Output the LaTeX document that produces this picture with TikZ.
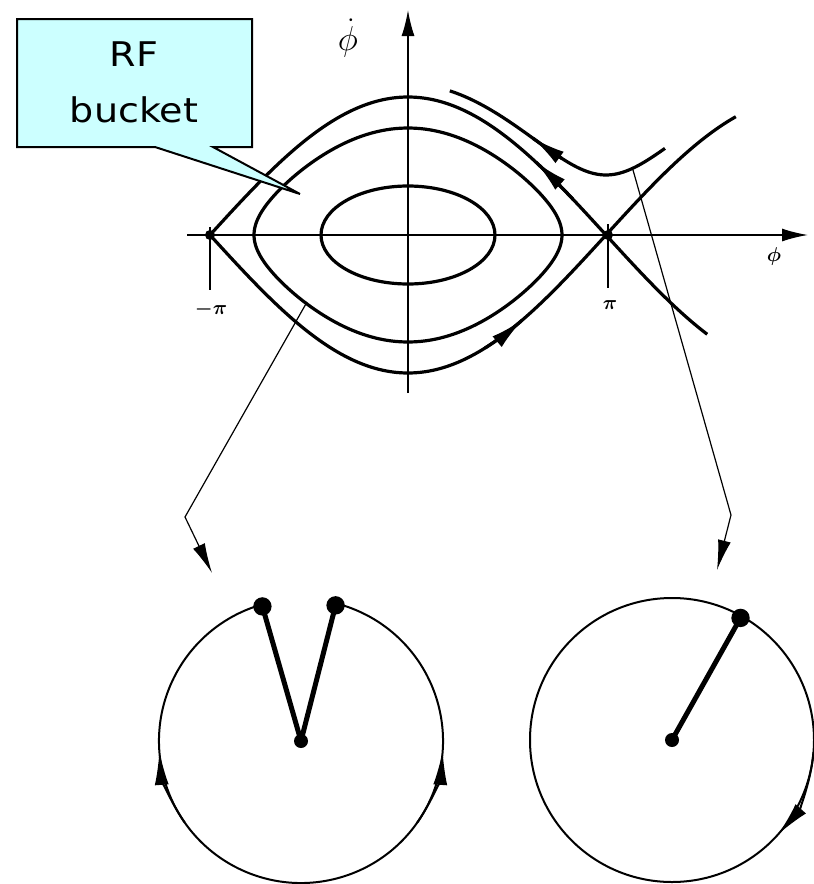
\documentclass[tikz,border=0pt]{standalone}
\usepackage{fontspec}
\newfontfamily\calloutfont{DejaVu Sans}
\usetikzlibrary{arrows.meta,calc}
\definecolor{bucketfill}{RGB}{204,255,255}
\begin{document}
\begin{tikzpicture}[x=0.5pt,y=-0.5pt,
 traj/.style={line width=1.6pt, line join=round},
 axisline/.style={line width=0.85pt},
 pointer/.style={line width=0.6pt, line join=miter},
 wheel/.style={line width=1pt},
 rod/.style={line width=2.5pt, line cap=round},
 midtip/.style={-{Latex[length=17pt,width=7pt]}},
 axtip/.style={-{Latex[length=13pt,width=6.5pt]}},
 ptrtip/.style={-{Latex[length=15pt,width=6.5pt]}},
 labelfont/.style={font=\fontsize{10}{12}\selectfont\boldmath},
]
\useasboundingbox (0,0) rectangle (814,884);

% axes
\coordinate (O) at (408,235);
\coordinate (xL) at (187,235);
\coordinate (xR) at (808,235);
\coordinate (yB) at (408,393);
\coordinate (yT) at (408,10);
\draw[axisline, axtip] (xL) -- (xR);
\draw[axisline, axtip] (yB) -- (yT);

% ticks at -pi and pi
\coordinate (mpi) at (210,235);
\coordinate (ppi) at (608,235);
\coordinate (mpiA) at (210,227);
\coordinate (mpiB) at (210,290);
\coordinate (ppiA) at (608,224);
\coordinate (ppiB) at (608,288);
\draw[axisline] (mpiA) -- (mpiB);
\draw[axisline] (ppiA) -- (ppiB);

% labels
\node[labelfont] (lmpi) at (211,309) {$-\pi$};
\node[labelfont] (lppi) at (610,305) {$\pi$};
\node[labelfont] (lphi) at (774,256) {$\phi$};
\node[font=\fontsize{18}{20}\selectfont] (ldphi) at (348,38) {$\dot{\phi}$};

% inner ellipse
\draw[traj] (O) ellipse [x radius=43.5pt, y radius=24.5pt];

% second closed trajectory
\draw[traj] plot[domain=0:180, samples=100] ({408+154*cos(\x)}, {235-107*sqrt(max(0,(cos(140*cos(\x))+0.766044)/1.766044))})
 -- plot[domain=180:360, samples=100] ({408+154*cos(\x)}, {235+107*sqrt(max(0,(cos(140*cos(\x))+0.766044)/1.766044))}) -- cycle;

% separatrix
\draw[traj] plot[domain=-180:272, samples=150] ({408+1.1*\x}, {235-138*cos(\x/2)});
\draw[traj] plot[domain=-180:298, samples=150] ({408+1.1*\x}, {235+138*cos(\x/2)});

% open trajectory
\draw[traj] plot[domain=38:233.6, samples=100] ({408+1.1*\x}, {235-98*sqrt(1.375+cos(\x))});

% direction arrows on trajectories
\draw[traj, midtip] plot[domain=150:115.5, samples=30] ({408+1.1*\x}, {235-138*cos(\x/2)});
\draw[traj, midtip] plot[domain=70:104.5, samples=30] ({408+1.1*\x}, {235+138*cos(\x/2)});
\draw[traj, midtip] plot[domain=140:112.7, samples=30] ({408+1.1*\x}, {235-98*sqrt(1.375+cos(\x))});

% fixed points
\fill (mpi) circle[radius=2.5pt];
\fill (ppi) circle[radius=2.5pt];

% pointers to the pendulum pictures
\coordinate (pA) at (307,302);
\coordinate (pAb) at (185,517);
\coordinate (pAt) at (212,573);
\coordinate (pB) at (633,170);
\coordinate (pBb) at (731,515);
\coordinate (pBt) at (717,570);
\draw[pointer, ptrtip] (pA) -- (pAb) -- (pAt);
\draw[pointer, ptrtip] (pB) -- (pBb) -- (pBt);

% left pendulum (oscillation)
\coordinate (Lc) at (301,741);
\coordinate (Ld1) at ($(Lc)+(106:70pt)$);
\coordinate (Ld2) at ($(Lc)+(75.7:70pt)$);
\draw[wheel] (Lc) ++(106:71pt) arc[start angle=106, end angle=436, radius=71pt];
\draw[wheel, midtip] (Lc) ++(215:71pt) arc[start angle=215, end angle=184, radius=71pt];
\draw[wheel, midtip] (Lc) ++(325:71pt) arc[start angle=325, end angle=356, radius=71pt];
\draw[rod] (Lc) -- (Ld1);
\draw[rod] (Lc) -- (Ld2);
\fill (Ld1) circle[radius=4.6pt];
\fill (Ld2) circle[radius=4.6pt];
\fill (Lc) circle[radius=3.5pt];

% right pendulum (rotation)
\coordinate (Rc) at (672,740);
\coordinate (Rd) at ($(Rc)+(60.7:70pt)$);
\draw[wheel] (Rc) circle[radius=71pt];
\draw[wheel, midtip] (Rc) ++(-5:71pt) arc[start angle=-5, end angle=-41.6, radius=71pt];
\draw[rod] (Rc) -- (Rd);
\fill (Rd) circle[radius=4.6pt];
\fill (Rc) circle[radius=3.5pt];

% callout
\coordinate (cTL) at (17,19);
\coordinate (cTR) at (252,19);
\coordinate (cBR) at (252,147);
\coordinate (cT1) at (213,147);
\coordinate (cTip) at (300,194);
\coordinate (cT2) at (155,147);
\coordinate (cBL) at (17,147);
\filldraw[fill=bucketfill, draw=black, line width=1pt, line join=miter]
  (cTL) -- (cTR) -- (cBR) -- (cT1) -- (cTip) -- (cT2) -- (cBL) -- cycle;
\node[anchor=base, font=\calloutfont\fontsize{17}{20}\selectfont] (rf) at (134,66) {\scalebox{1.12}[1]{RF}};
\node[anchor=base, font=\calloutfont\fontsize{17}{20}\selectfont] (bk) at (134,122) {\scalebox{1.12}[1]{bucket}};
\end{tikzpicture}
\end{document}
